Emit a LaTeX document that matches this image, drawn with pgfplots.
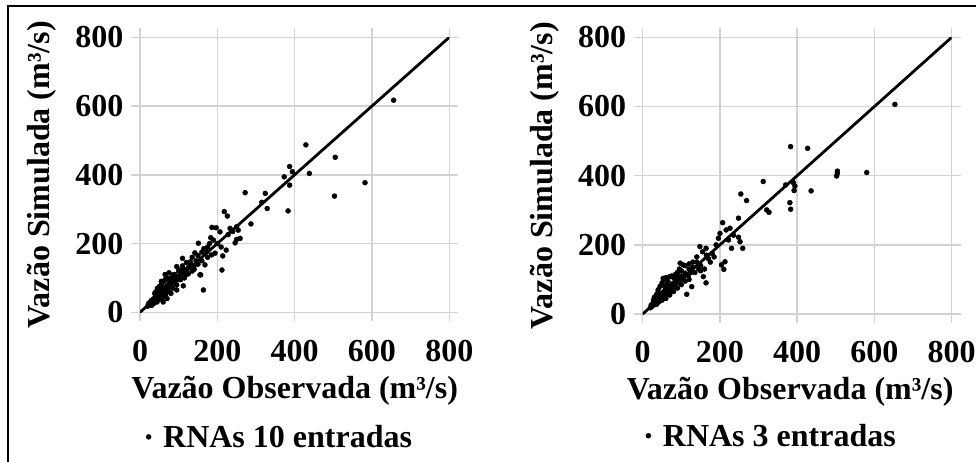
\documentclass[border=0pt]{standalone}
\usepackage{pgfplots}
\pgfplotsset{compat=1.18}
\usepackage{fontspec}
\setmainfont{Liberation Serif}

\newcommand{\bigfont}{\bfseries\fontsize{32}{34}\selectfont}

\pgfplotsset{
  dispersao/.style={
    scale only axis,
    anchor=south west,
    xmin=0, xmax=800, ymin=0, ymax=800,
    xtick={0,200,...,800}, ytick={0,200,...,800},
    grid=major,
    grid style={draw=gray!35, line width=1.5pt},
    axis line style={draw=gray!35, line width=1.5pt},
    tick style={draw=gray!35, line width=1.5pt},
    tick align=outside,
    major tick length=9pt,
    /pgf/number format/assume math mode=true,
    tick label style={font=\bigfont},
    xticklabel style={yshift=-15pt},
    yticklabel style={xshift=-4pt},
    label style={font=\bigfont},
    xlabel={Vazão Observada (m³/s)},
    ylabel={Vazão Simulada (m³/s)},
    legend style={draw=none, fill=none, font=\bigfont, anchor=center},
    legend cell align=left,
  },
  pontos/.style={only marks, mark=*, mark size=2.5pt, black},
}

\begin{document}
\begin{tikzpicture}[x=1pt, y=1pt]
\path[use as bounding box] (0pt,0pt) rectangle (976pt,461pt);
\draw[line width=2pt] (7.5pt,-5pt) -- (7.5pt,455pt) -- (990pt,455pt);

% RNAs 10 entradas
\begin{axis}[dispersao,
    at={(140pt,148.7pt)}, width=309.3pt, height=275pt,
    xlabel style={at={(axis description cs:0.5,-0.284)}, anchor=center},
    ylabel style={at={(axis description cs:-0.317,0.5)}, anchor=center},
    legend style={at={(axis description cs:0.453,-0.453)}},
]
\addplot[black, line width=2.8pt, forget plot] coordinates {(0,0) (800,800)};
\addplot[pontos] coordinates {
(656,617) (429,487) (505,451) (438,404) (582,377) (503,338) (383,295)
(387,424) (394,409) (373,394) (387,370) (272,348) (324,346) (315,320)
(329,302) (218,293) (226,280) (287,257) (186,247) (197,246) (207,234)
(233,244) (250,249) (254,239) (183,217) (250,212) (259,215) (246,202)
(151,201) (223,181) (214,164) (212,123) (164,65) (110,157) (157,109)
(112,77) (142,173) (173,176) (185,167) (194,172) (130,147) (168,138)
(95,133) (104,123) (117,118) (155,109) (86,109) (78,94)
(200,200) (210,190) (228,226) (240,235) (175,160) (160,150) (150,140)
(140,135) (135,120) (125,130) (120,110) (115,125) (108,115) (100,105)
(98,95) (92,100) (90,85) (85,92) (80,80) (75,85) (72,70) (70,78)
(68,62) (65,72) (62,60) (60,68) (58,55) (55,62) (52,48) (50,56)
(48,45) (46,52) (44,40) (42,46) (40,38) (38,42) (36,32) (34,38)
(32,30) (30,35) (28,26) (26,30) (24,22) (22,25) (20,18) (55,80)
(60,88) (50,75) (45,70) (65,95) (70,100) (58,42) (62,48) (75,60)
(85,70) (95,80) (105,95) (115,100) (125,112) (140,125) (130,140)
(145,150) (110,135) (100,120) (90,110) (80,100) (38,55) (42,60)
(48,65) (52,38) (44,30) (35,25) (30,20) (66,50) (120,145) (135,160)
(165,185) (180,200) (190,210) (150,165) (160,175) (175,190)
(60,30) (70,40) (80,55) (95,65) (40,58) (55,90) (65,110) (75,115)
};
\addlegendentry{\hspace{10pt}RNAs 10 entradas}
\end{axis}

% RNAs 3 entradas
\begin{axis}[dispersao,
    at={(642.7pt,147pt)}, width=309pt, height=276.7pt,
    xlabel style={at={(axis description cs:0.477,-0.28)}, anchor=center},
    ylabel style={at={(axis description cs:-0.316,0.5)}, anchor=center},
    legend style={at={(axis description cs:0.418,-0.44)}},
]
\addplot[black, line width=2.8pt, forget plot] coordinates {(0,0) (800,800)};
\addplot[pontos] coordinates {
(653,606) (383,484) (427,479) (504,413) (504,407) (502,399) (580,409)
(312,383) (370,373) (390,380) (394,370) (392,357) (436,356) (381,322)
(383,303) (321,301) (327,294) (254,347) (269,328) (248,277) (207,264)
(226,248) (216,243) (200,233) (196,219) (235,228) (248,222) (252,209)
(230,190) (259,190) (222,214) (148,195) (164,190) (213,151) (210,129)
(204,142) (157,108) (164,90) (114,57) (127,79) (97,147) (105,142)
(53,103)
(170,160) (175,150) (165,170) (180,175) (185,165) (190,200) (140,150)
(150,140) (130,135) (125,120) (120,130) (118,110) (110,118) (105,100)
(100,110) (95,90) (92,105) (88,95) (85,80) (80,90) (78,75) (75,85)
(72,68) (70,80) (68,60) (65,72) (62,58) (60,70) (58,52) (55,65)
(52,50) (50,60) (48,45) (46,55) (44,42) (42,50) (40,38) (38,45)
(36,34) (34,40) (32,30) (30,35) (28,26) (26,30) (24,22) (22,26)
(20,18) (45,80) (50,90) (40,70) (55,100) (60,105) (65,95) (70,108)
(75,110) (80,105) (100,125) (110,140) (120,145) (130,150) (95,130)
(85,115) (60,45) (70,55) (80,65) (90,75) (100,85) (110,95) (120,100)
(135,120) (145,130) (38,60) (35,55) (30,48) (28,40) (42,35) (36,28)
(50,40) (58,78) (62,85) (90,120) (140,165) (155,180) (150,125) (160,130)
};
\addlegendentry{\hspace{10pt}RNAs 3 entradas}
\end{axis}
\end{tikzpicture}
\end{document}
